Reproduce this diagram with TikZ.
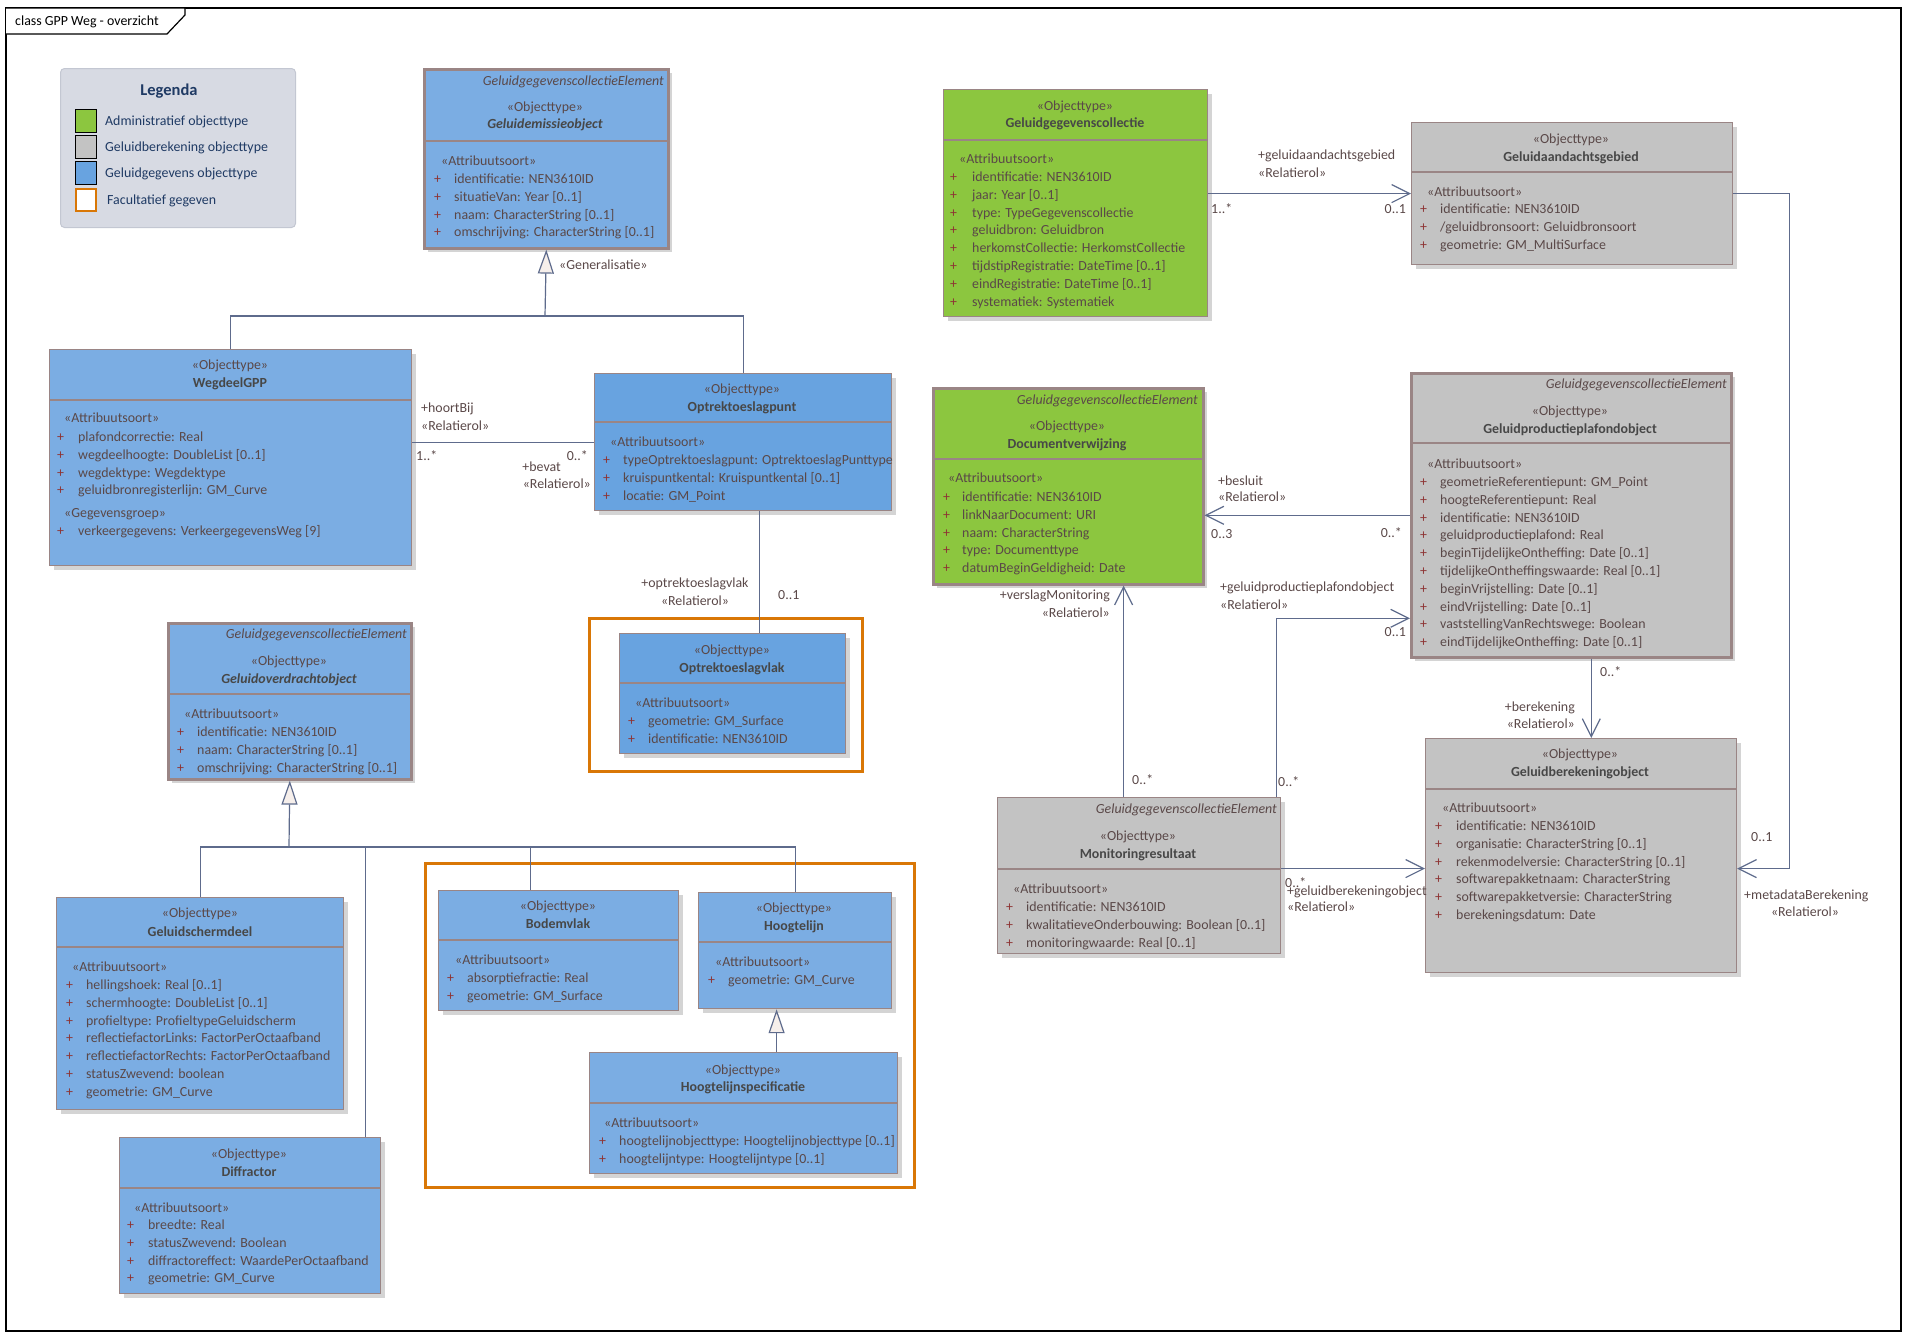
\documentclass[tikz,border=0pt]{standalone}
\usepackage{fontspec}
\setmainfont{Carlito}
\usepackage{tikz}
\usetikzlibrary{arrows.meta, shadows}

\definecolor{blauw}{HTML}{7BADE3}
\definecolor{blauwdonker}{HTML}{68A3E0}
\definecolor{groen}{HTML}{8CC63F}
\definecolor{grijs}{HTML}{C3C3C3}
\definecolor{rand}{HTML}{9A8585}
\definecolor{schaduw}{HTML}{D4D4D4}
\definecolor{tekst}{HTML}{5A4848}
\definecolor{plusrood}{HTML}{8E3434}
\definecolor{naamkleur}{HTML}{474747}
\definecolor{verbinding}{HTML}{5E6B8C}
\definecolor{oranje}{HTML}{D97706}
\definecolor{legendagrond}{HTML}{D7DAE3}
\definecolor{legendarand}{HTML}{C3C7D2}
\definecolor{legendatekst}{HTML}{1F3A64}
\definecolor{driehoek}{HTML}{F6EFEB}

\begin{document}
\begin{tikzpicture}[x=1pt, y=-1pt, every node/.style={inner sep=0pt, font=\fontsize{13.9}{16}\selectfont}]
    \tikzset{
        klasse/.style={draw=rand, line width=1.2pt, anchor=north west,
            general shadow={fill=schaduw, shadow xshift=4pt, shadow yshift=-4pt}},
        abstractrand/.style={line width=2.6pt},
        deler/.style={draw=rand, line width=1.2pt},
        kop/.style={anchor=base, yshift=-4.5pt, text=tekst},
        naam/.style={anchor=base, yshift=-4.5pt, text=naamkleur, font=\fontsize{13.9}{16}\selectfont\bfseries},
        abstractnaam/.style={naam, font=\fontsize{13.9}{16}\selectfont\bfseries\itshape},
        element/.style={anchor=base east, yshift=-4.5pt, text=tekst, font=\fontsize{13.9}{16}\selectfont\itshape},
        soort/.style={anchor=base west, yshift=-4.5pt, text=tekst},
        regel/.style={anchor=base west, yshift=-4.5pt, text=tekst},
        plusteken/.style={anchor=base west, yshift=-4.5pt, text=plusrood},
        lijn/.style={draw=verbinding, line width=1.2pt},
        pijl/.style={lijn, -{Straight Barb[length=18pt, width=18pt, line width=1.2pt]}},
        generalisatie/.style={lijn, -{Triangle[open, length=24pt, width=16pt, fill=driehoek, line width=1.2pt]}},
        rol/.style={yshift=-4.5pt, text=tekst},
        facultatief/.style={draw=oranje, line width=3pt, anchor=north west}
    }
    \useasboundingbox (0,0) rectangle (1911,1339);

    % --- Kader ---
    \draw[line width=1.2pt] (6,8) rectangle (1901,1331);
    \draw[line width=1.2pt, fill=white] (6,8) -- (185,8) -- (185,15) -- (167,34) -- (6,34);
    \node[anchor=base west, yshift=-4.5pt] (titel) at (15,21) {class GPP Weg - overzicht};

    % --- Legenda ---
    \node[draw=legendarand, fill=legendagrond, line width=1pt, rounded corners=4pt, anchor=north west,
          minimum width=235pt, minimum height=159pt] (legenda) at (60,68) {};
    \node[anchor=base, yshift=-5pt, text=legendatekst, font=\fontsize{16.5}{18}\selectfont\bfseries] (legendatitel) at (169,90) {Legenda};
    \foreach \kleur/\y/\omschrijving [count=\i] in {groen/121/Administratief objecttype, grijs/147/Geluidberekening objecttype, blauwdonker/173/Geluidgegevens objecttype} {
        \node[draw=black, line width=1.5pt, fill=\kleur, minimum width=21pt, minimum height=23pt] (vak\i) at (86,\y) {};
        \node[anchor=base west, yshift=-4.5pt, text=legendatekst] (uitleg\i) at (105,\y) {\omschrijving};
    }
    \node[draw=oranje, line width=2.5pt, fill=white, minimum width=20pt, minimum height=22pt] (vak4) at (86,200) {};
    \node[anchor=base west, yshift=-4.5pt, text=legendatekst] (uitleg4) at (107,200) {Facultatief gegeven};

    % --- Facultatieve gegevens ---
    \node[facultatief, minimum width=273pt, minimum height=153pt] (kader1) at (588,617) {};
    \node[facultatief, minimum width=489pt, minimum height=324pt] (kader2) at (424,862) {};

    % --- Geluidemissieobject ---
    \node[klasse, abstractrand, fill=blauw, minimum width=244pt, minimum height=179pt] (emissie) at (423,68) {};
    \draw[deler, abstractrand] (emissie.west |- 0,141) -- (emissie.east |- 0,141);
    \node[element] (emissie-e) at (664,81) {GeluidgegevenscollectieElement};
    \node[kop] (emissie-k) at (545,107) {«Objecttype»};
    \node[abstractnaam] (emissie-n) at (545,124) {Geluidemissieobject};
    \node[soort] (emissie-s) at (441,161) {«Attribuutsoort»};
    \foreach \t [count=\i from 0] in {{identificatie: NEN3610ID}, {situatieVan: Year [0..1]}, {naam: CharacterString [0..1]}, {omschrijving: CharacterString [0..1]}} {
        \node[plusteken] (emissie-p\i) at (434, 179+17.8*\i) {+};
        \node[regel] (emissie-a\i) at (454, 179+17.8*\i) {\t};
    }

    % --- WegdeelGPP ---
    \node[klasse, fill=blauw, minimum width=362pt, minimum height=216pt] (wegdeel) at (49,349) {};
    \draw[deler] (wegdeel.west |- 0,400) -- (wegdeel.east |- 0,400);
    \node[kop] (wegdeel-k) at (230,365) {«Objecttype»};
    \node[naam] (wegdeel-n) at (230,383) {WegdeelGPP};
    \node[soort] (wegdeel-s) at (64,418) {«Attribuutsoort»};
    \foreach \t [count=\i from 0] in {{plafondcorrectie: Real}, {wegdeelhoogte: DoubleList [0..1]}, {wegdektype: Wegdektype}, {geluidbronregisterlijn: GM\_Curve}} {
        \node[plusteken] (wegdeel-p\i) at (57, 437+17.8*\i) {+};
        \node[regel] (wegdeel-a\i) at (78, 437+17.8*\i) {\t};
    }
    \node[soort] (wegdeel-g) at (64,513) {«Gegevensgroep»};
    \node[plusteken] (wegdeel-p4) at (57,531) {+};
    \node[regel] (wegdeel-a4) at (78,531) {verkeergegevens: VerkeergegevensWeg [9]};

    % --- Optrektoeslagpunt ---
    \node[klasse, fill=blauwdonker, minimum width=297pt, minimum height=137pt] (punt) at (594,373) {};
    \draw[deler] (punt.west |- 0,422) -- (punt.east |- 0,422);
    \node[kop] (punt-k) at (742,389) {«Objecttype»};
    \node[naam] (punt-n) at (742,407) {Optrektoeslagpunt};
    \node[soort] (punt-s) at (610,442) {«Attribuutsoort»};
    \foreach \t [count=\i from 0] in {{typeOptrektoeslagpunt: OptrektoeslagPunttype}, {kruispuntkental: Kruispuntkental [0..1]}, {locatie: GM\_Point}} {
        \node[plusteken] (punt-p\i) at (603, 460+17.8*\i) {+};
        \node[regel] (punt-a\i) at (623, 460+17.8*\i) {\t};
    }

    % --- Optrektoeslagvlak ---
    \node[klasse, fill=blauwdonker, minimum width=226pt, minimum height=120pt] (vlak) at (619,633) {};
    \draw[deler] (vlak.west |- 0,683) -- (vlak.east |- 0,683);
    \node[kop] (vlak-k) at (732,650) {«Objecttype»};
    \node[naam] (vlak-n) at (732,668) {Optrektoeslagvlak};
    \node[soort] (vlak-s) at (635,703) {«Attribuutsoort»};
    \foreach \t [count=\i from 0] in {{geometrie: GM\_Surface}, {identificatie: NEN3610ID}} {
        \node[plusteken] (vlak-p\i) at (628, 721+17.8*\i) {+};
        \node[regel] (vlak-a\i) at (648, 721+17.8*\i) {\t};
    }

    % --- Geluidoverdrachtobject ---
    \node[klasse, abstractrand, fill=blauw, minimum width=243pt, minimum height=156pt] (overdracht) at (167,622) {};
    \draw[deler, abstractrand] (overdracht.west |- 0,694) -- (overdracht.east |- 0,694);
    \node[element] (overdracht-e) at (407,634) {GeluidgegevenscollectieElement};
    \node[kop] (overdracht-k) at (289,661) {«Objecttype»};
    \node[abstractnaam] (overdracht-n) at (289,679) {Geluidoverdrachtobject};
    \node[soort] (overdracht-s) at (184,714) {«Attribuutsoort»};
    \foreach \t [count=\i from 0] in {{identificatie: NEN3610ID}, {naam: CharacterString [0..1]}, {omschrijving: CharacterString [0..1]}} {
        \node[plusteken] (overdracht-p\i) at (177, 732+17.8*\i) {+};
        \node[regel] (overdracht-a\i) at (197, 732+17.8*\i) {\t};
    }

    % --- Geluidschermdeel ---
    \node[klasse, fill=blauw, minimum width=287pt, minimum height=212pt] (scherm) at (56,897) {};
    \draw[deler] (scherm.west |- 0,947) -- (scherm.east |- 0,947);
    \node[kop] (scherm-k) at (200,913) {«Objecttype»};
    \node[naam] (scherm-n) at (200,932) {Geluidschermdeel};
    \node[soort] (scherm-s) at (72,967) {«Attribuutsoort»};
    \foreach \t [count=\i from 0] in {{hellingshoek: Real [0..1]}, {schermhoogte: DoubleList [0..1]}, {profieltype: ProfieltypeGeluidscherm}, {reflectiefactorLinks: FactorPerOctaafband}, {reflectiefactorRechts: FactorPerOctaafband}, {statusZwevend: boolean}, {geometrie: GM\_Curve}} {
        \node[plusteken] (scherm-p\i) at (66, 985+17.8*\i) {+};
        \node[regel] (scherm-a\i) at (86, 985+17.8*\i) {\t};
    }

    % --- Diffractor ---
    \node[klasse, fill=blauw, minimum width=261pt, minimum height=156pt] (diffractor) at (119,1137) {};
    \draw[deler] (diffractor.west |- 0,1188) -- (diffractor.east |- 0,1188);
    \node[kop] (diffractor-k) at (249,1154) {«Objecttype»};
    \node[naam] (diffractor-n) at (249,1172) {Diffractor};
    \node[soort] (diffractor-s) at (134,1208) {«Attribuutsoort»};
    \foreach \t [count=\i from 0] in {{breedte: Real}, {statusZwevend: Boolean}, {diffractoreffect: WaardePerOctaafband}, {geometrie: GM\_Curve}} {
        \node[plusteken] (diffractor-p\i) at (127, 1225+17.8*\i) {+};
        \node[regel] (diffractor-a\i) at (148, 1225+17.8*\i) {\t};
    }

    % --- Bodemvlak ---
    \node[klasse, fill=blauw, minimum width=240pt, minimum height=120pt] (bodem) at (438,890) {};
    \draw[deler] (bodem.west |- 0,940) -- (bodem.east |- 0,940);
    \node[kop] (bodem-k) at (558,906) {«Objecttype»};
    \node[naam] (bodem-n) at (558,924) {Bodemvlak};
    \node[soort] (bodem-s) at (455,960) {«Attribuutsoort»};
    \foreach \t [count=\i from 0] in {{absorptiefractie: Real}, {geometrie: GM\_Surface}} {
        \node[plusteken] (bodem-p\i) at (447, 978+17.8*\i) {+};
        \node[regel] (bodem-a\i) at (467, 978+17.8*\i) {\t};
    }

    % --- Hoogtelijn ---
    \node[klasse, fill=blauw, minimum width=193pt, minimum height=116pt] (hoogtelijn) at (698,892) {};
    \draw[deler] (hoogtelijn.west |- 0,942) -- (hoogtelijn.east |- 0,942);
    \node[kop] (hoogtelijn-k) at (794,908) {«Objecttype»};
    \node[naam] (hoogtelijn-n) at (794,926) {Hoogtelijn};
    \node[soort] (hoogtelijn-s) at (715,962) {«Attribuutsoort»};
    \node[plusteken] (hoogtelijn-p0) at (708,980) {+};
    \node[regel] (hoogtelijn-a0) at (728,980) {geometrie: GM\_Curve};

    % --- Hoogtelijnspecificatie ---
    \node[klasse, fill=blauw, minimum width=308pt, minimum height=121pt] (spec) at (589,1052) {};
    \draw[deler] (spec.west |- 0,1103) -- (spec.east |- 0,1103);
    \node[kop] (spec-k) at (743,1070) {«Objecttype»};
    \node[naam] (spec-n) at (743,1087) {Hoogtelijnspecificatie};
    \node[soort] (spec-s) at (604,1123) {«Attribuutsoort»};
    \foreach \t [count=\i from 0] in {{hoogtelijnobjecttype: Hoogtelijnobjecttype [0..1]}, {hoogtelijntype: Hoogtelijntype [0..1]}} {
        \node[plusteken] (spec-p\i) at (599, 1141+17.8*\i) {+};
        \node[regel] (spec-a\i) at (619, 1141+17.8*\i) {\t};
    }

    % --- Geluidgegevenscollectie ---
    \node[klasse, fill=groen, minimum width=264pt, minimum height=227pt] (collectie) at (943,89) {};
    \draw[deler] (collectie.west |- 0,140) -- (collectie.east |- 0,140);
    \node[kop] (collectie-k) at (1075,106) {«Objecttype»};
    \node[naam] (collectie-n) at (1075,123) {Geluidgegevenscollectie};
    \node[soort] (collectie-s) at (959,159) {«Attribuutsoort»};
    \foreach \t [count=\i from 0] in {{identificatie: NEN3610ID}, {jaar: Year [0..1]}, {type: TypeGegevenscollectie}, {geluidbron: Geluidbron}, {herkomstCollectie: HerkomstCollectie}, {tijdstipRegistratie: DateTime [0..1]}, {eindRegistratie: DateTime [0..1]}, {systematiek: Systematiek}} {
        \node[plusteken] (collectie-p\i) at (950, 177+17.8*\i) {+};
        \node[regel] (collectie-a\i) at (972, 177+17.8*\i) {\t};
    }

    % --- Geluidaandachtsgebied ---
    \node[klasse, fill=grijs, minimum width=321pt, minimum height=142pt] (aandacht) at (1411,122) {};
    \draw[deler] (aandacht.west |- 0,172) -- (aandacht.east |- 0,172);
    \node[kop] (aandacht-k) at (1571,139) {«Objecttype»};
    \node[naam] (aandacht-n) at (1571,157) {Geluidaandachtsgebied};
    \node[soort] (aandacht-s) at (1427,192) {«Attribuutsoort»};
    \foreach \t [count=\i from 0] in {{identificatie: NEN3610ID}, {/geluidbronsoort: Geluidbronsoort}, {geometrie: GM\_MultiSurface}} {
        \node[plusteken] (aandacht-p\i) at (1420, 209+17.8*\i) {+};
        \node[regel] (aandacht-a\i) at (1440, 209+17.8*\i) {\t};
    }

    % --- Documentverwijzing ---
    \node[klasse, abstractrand, fill=groen, minimum width=270pt, minimum height=196pt] (doc) at (932,387) {};
    \draw[deler, abstractrand] (doc.west |- 0,459) -- (doc.east |- 0,459);
    \node[element] (doc-e) at (1198,400) {GeluidgegevenscollectieElement};
    \node[kop] (doc-k) at (1067,426) {«Objecttype»};
    \node[naam] (doc-n) at (1067,444) {Documentverwijzing};
    \node[soort] (doc-s) at (948,478) {«Attribuutsoort»};
    \foreach \t [count=\i from 0] in {{identificatie: NEN3610ID}, {linkNaarDocument: URI}, {naam: CharacterString}, {type: Documenttype}, {datumBeginGeldigheid: Date}} {
        \node[plusteken] (doc-p\i) at (943, 497+17.8*\i) {+};
        \node[regel] (doc-a\i) at (962, 497+17.8*\i) {\t};
    }

    % --- Geluidproductieplafondobject ---
    \node[klasse, abstractrand, fill=grijs, minimum width=320pt, minimum height=284pt] (plafond) at (1410,372) {};
    \draw[deler, abstractrand] (plafond.west |- 0,443) -- (plafond.east |- 0,443);
    \node[element] (plafond-e) at (1727,384) {GeluidgegevenscollectieElement};
    \node[kop] (plafond-k) at (1570,411) {«Objecttype»};
    \node[naam] (plafond-n) at (1570,429) {Geluidproductieplafondobject};
    \node[soort] (plafond-s) at (1427,464) {«Attribuutsoort»};
    \foreach \t [count=\i from 0] in {{geometrieReferentiepunt: GM\_Point}, {hoogteReferentiepunt: Real}, {identificatie: NEN3610ID}, {geluidproductieplafond: Real}, {beginTijdelijkeOntheffing: Date [0..1]}, {tijdelijkeOntheffingswaarde: Real [0..1]}, {beginVrijstelling: Date [0..1]}, {eindVrijstelling: Date [0..1]}, {vaststellingVanRechtswege: Boolean}, {eindTijdelijkeOntheffing: Date [0..1]}} {
        \node[plusteken] (plafond-p\i) at (1420, 482+17.8*\i) {+};
        \node[regel] (plafond-a\i) at (1440, 482+17.8*\i) {\t};
    }

    % --- Monitoringresultaat ---
    \node[klasse, fill=grijs, minimum width=283pt, minimum height=156pt] (monitor) at (997,797) {};
    \draw[deler] (monitor.west |- 0,869) -- (monitor.east |- 0,869);
    \node[element] (monitor-e) at (1277,809) {GeluidgegevenscollectieElement};
    \node[kop] (monitor-k) at (1138,836) {«Objecttype»};
    \node[naam] (monitor-n) at (1138,854) {Monitoringresultaat};
    \node[soort] (monitor-s) at (1013,889) {«Attribuutsoort»};
    \foreach \t [count=\i from 0] in {{identificatie: NEN3610ID}, {kwalitatieveOnderbouwing: Boolean [0..1]}, {monitoringwaarde: Real [0..1]}} {
        \node[plusteken] (monitor-p\i) at (1006, 907+17.8*\i) {+};
        \node[regel] (monitor-a\i) at (1026, 907+17.8*\i) {\t};
    }

    % --- Geluidberekeningobject ---
    \node[klasse, fill=grijs, minimum width=311pt, minimum height=234pt] (berekening) at (1425,738) {};
    \draw[deler] (berekening.west |- 0,789) -- (berekening.east |- 0,789);
    \node[kop] (berekening-k) at (1580,754) {«Objecttype»};
    \node[naam] (berekening-n) at (1580,772) {Geluidberekeningobject};
    \node[soort] (berekening-s) at (1442,808) {«Attribuutsoort»};
    \foreach \t [count=\i from 0] in {{identificatie: NEN3610ID}, {organisatie: CharacterString [0..1]}, {rekenmodelversie: CharacterString [0..1]}, {softwarepakketnaam: CharacterString}, {softwarepakketversie: CharacterString}, {berekeningsdatum: Date}} {
        \node[plusteken] (berekening-p\i) at (1435, 826+17.8*\i) {+};
        \node[regel] (berekening-a\i) at (1456, 826+17.8*\i) {\t};
    }

    % --- Generalisaties ---
    \coordinate (tak1) at (545,316);
    \draw[lijn] (wegdeel.north) |- (tak1) -| (punt.north);
    \draw[generalisatie] (tak1) -- (emissie.south);
    \coordinate (tak2) at (289,847);
    \draw[lijn] (scherm.north) |- (tak2) -| (hoogtelijn.north);
    \draw[lijn] ([xshift=-16pt]diffractor.north east) |- (tak2);
    \draw[lijn] ([xshift=-28pt]bodem.north) |- (tak2);
    \draw[generalisatie] (tak2) -- (overdracht.south);
    \draw[generalisatie] ([xshift=33pt]spec.north) -- ([xshift=33pt]spec.north |- hoogtelijn.south);

    % --- Relaties ---
    \draw[lijn] (wegdeel.east |- punt.west) -- (punt.west);
    \draw[lijn] ([xshift=16.5pt]punt.south) -- ([xshift=16.5pt]punt.south |- vlak.north);
    \draw[pijl] (collectie.east |- aandacht.west) -- (aandacht.west);
    \draw[pijl] (plafond.west) -- (plafond.west -| doc.east);
    \draw[pijl] ([xshift=-5pt]monitor.north east) |- ([yshift=-103pt]plafond.west);
    \draw[pijl] ([xshift=-15.5pt]monitor.north) -- ([xshift=-15.5pt]monitor.north |- doc.south);
    \draw[pijl] ([xshift=20pt]plafond.south) -- ([xshift=20pt]plafond.south |- berekening.north);
    \draw[pijl] ([yshift=7pt]monitor.east) -- ([yshift=7pt]monitor.east -| berekening.west);
    \draw[pijl] (aandacht.east) -- ++(56,0) |- ([yshift=-13pt]berekening.east);

    % --- Rollen en multipliciteiten ---
    \node[rol, anchor=base west] (gen1) at (559,265) {«Generalisatie»};
    \foreach \x/\y/\anker/\tekst [count=\i] in {
        421/408/base west/+hoortBij, 421/426/base west/«Relatierol», 416/456/base west/1..*,
        588/456/base east/0..*, 561/467/base east/+bevat, 591/484/base east/«Relatierol»,
        695/583/base/+optrektoeslagvlak, 695/601/base/«Relatierol», 778/595/base west/0..1,
        1258/155/base west/+geluidaandachtsgebied, 1258/173/base west/«Relatierol»,
        1211/209/base west/1..*, 1406/209/base east/0..1,
        1218/481/base west/+besluit, 1218/497/base west/«Relatierol»,
        1211/534/base west/0..3, 1402/533/base east/0..*,
        1220/587/base west/+geluidproductieplafondobject, 1220/605/base west/«Relatierol»,
        1406/632/base east/0..1,
        1110/595/base east/+verslagMonitoring, 1110/613/base east/«Relatierol»,
        1132/780/base west/0..*, 1278/782/base west/0..*,
        1600/672/base west/0..*, 1575/707/base east/+berekening, 1575/724/base east/«Relatierol»,
        1285/883/base west/0..*, 1287/891/base west/+geluidberekeningobject, 1287/907/base west/«Relatierol»,
        1751/837/base west/0..1, 1744/895/base west/+metadataBerekening, 1805/912/base/«Relatierol»} {
        \node[rol, anchor=\anker] (rol\i) at (\x,\y) {\tekst};
    }
\end{tikzpicture}
\end{document}
